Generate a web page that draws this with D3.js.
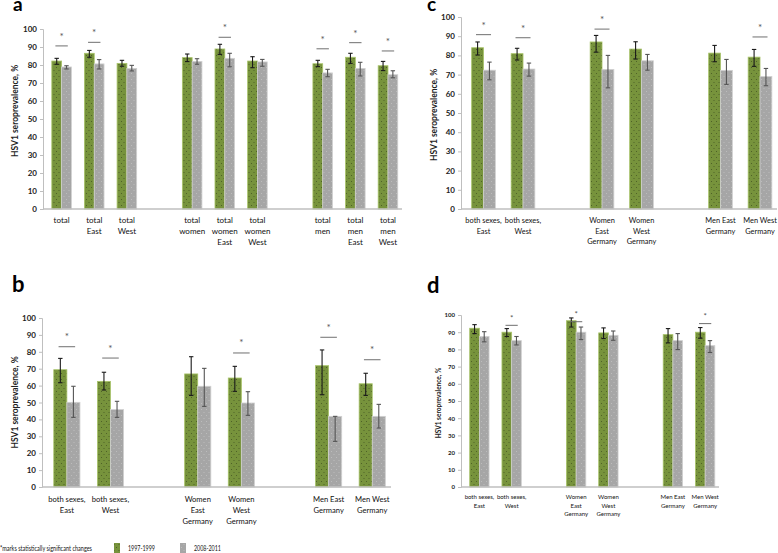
<!DOCTYPE html>
<html>
<head>
<meta charset="utf-8">
<script src="https://cdn.jsdelivr.net/npm/d3@7"></script>
<style>
  body { margin: 0; background: #fff; }
  text { font-family: Lato, "Liberation Sans", sans-serif; }
</style>
</head>
<body>
<div id="chart"></div>
<script>
const W = 778, H = 553;

// series + legend
const seriesNames = ["1997-1999", "2008-2011"];
const footNote = "*marks statistically significant changes";
const yTicks = [0, 10, 20, 30, 40, 50, 60, 70, 80, 90, 100];

// panel a (null = empty slot between groups)
const catsA = ["total", "total\nEast", "total\nWest", null, "total\nwomen", "total\nwomen\nEast", "total\nwomen\nWest", null, "total\nmen", "total\nmen\nEast", "total\nmen\nWest"];
const oldA   = [82.2, 86.5, 80.9, null, 84.1, 88.9, 82.2, null, 80.7, 84.3, 79.6];
const oldLoA = [80.4, 84.3, 79.3, null, 81.9, 85.9, 78.5, null, 79.1, 80.9, 76.9];
const oldHiA = [83.7, 88.1, 82.6, null, 86.1, 91.5, 84.6, null, 82.6, 86.5, 82.0];
const newA   = [78.9, 80.6, 78.1, null, 82.0, 83.7, 81.7, null, 75.6, 78.1, 74.6];
const newLoA = [77.8, 77.8, 76.7, null, 80.4, 79.0, 79.3, null, 73.5, 73.9, 72.9];
const newHiA = [79.6, 83.0, 79.8, null, 83.5, 86.5, 83.1, null, 77.6, 81.5, 76.8];
const sigA   = [90.6, 92.6, null, null, null, 95.4, null, null, 89.0, 92.4, 87.8];

// panels b, c, d share categories
const catsBCD = ["both sexes,\nEast", "both sexes,\nWest", null, "Women\nEast\nGermany", "Women\nWest\nGermany", null, "Men East\nGermany", "Men West\nGermany"];

const oldB   = [69.4, 62.5, null, 66.9, 64.5, null, 71.8, 61.1];
const oldLoB = [61.7, 57.4, null, 54.2, 56.6, null, 54.6, 54.2];
const oldHiB = [76.1, 67.9, null, 77.1, 71.4, null, 81.1, 67.3];
const newB   = [50.1, 45.8, null, 59.6, 49.7, null, 41.8, 41.8];
const newLoB = [41.2, 41.2, null, 47.7, 42.4, null, 27.0, 34.9];
const newHiB = [59.6, 50.7, null, 70.2, 56.4, null, 41.8, 48.9];
const sigB   = [83.0, 76.3, null, null, 79.3, null, 88.6, 75.3];

const oldC   = [84.0, 80.9, null, 87.0, 83.3, null, 81.2, 79.1];
const oldLoC = [80.2, 77.6, null, 81.7, 78.1, null, 76.7, 74.3];
const oldHiC = [87.0, 83.7, null, 90.4, 87.1, null, 85.2, 83.1];
const newC   = [72.3, 72.9, null, 72.7, 77.2, null, 72.2, 69.0];
const newLoC = [67.3, 69.2, null, 63.1, 72.3, null, 64.9, 64.2];
const newHiC = [76.5, 76.0, null, 80.0, 80.5, null, 77.9, 73.2];
const sigC   = [90.8, 89.2, null, 93.7, null, null, null, 89.6];

const oldD   = [92.3, 90.0, null, 96.7, 89.6, null, 88.6, 90.0];
const oldLoD = [89.2, 87.5, null, 93.0, 86.3, null, 83.8, 86.5];
const oldHiD = [94.4, 92.1, null, 98.3, 92.5, null, 92.1, 92.7];
const newD   = [87.5, 85.1, null, 90.0, 88.2, null, 85.1, 82.2];
const newLoD = [84.4, 82.6, null, 85.7, 85.3, null, 79.9, 78.2];
const newHiD = [90.3, 87.5, null, 93.0, 90.7, null, 89.2, 85.1];
const sigD   = [null, 94.0, null, 96.1, null, null, null, 95.0];

const svg = d3.select("#chart").append("svg")
  .attr("width", W).attr("height", H);

// dotted fills like the excel texture
const defs = svg.append("defs");
function dotPattern(id, bg, dot) {
  const p = defs.append("pattern").attr("id", id)
    .attr("patternUnits", "userSpaceOnUse").attr("width", 5).attr("height", 6);
  p.append("rect").attr("width", 5).attr("height", 6).attr("fill", bg);
  p.append("rect").attr("x", 1).attr("y", 1).attr("width", 1).attr("height", 1).attr("fill", dot);
  p.append("rect").attr("x", 3.5).attr("y", 4).attr("width", 1).attr("height", 1).attr("fill", dot);
}
dotPattern("dotGreen", "#77933c", "#4f6228");
dotPattern("dotGray", "#a6a6a6", "#bcbcbc");

function drawPanel(p) {
  const g = svg.append("g");
  const n = p.cats.length;
  const x = d3.scaleBand().domain(d3.range(n)).range([p.x0, p.x1]);
  const y = d3.scaleLinear().domain([0, 100]).range([p.y1, p.y0]);
  const step = x.step();
  const bw = step * 0.3;

  // panel letter
  g.append("text").attr("x", p.lx).attr("y", p.ly)
    .attr("font-size", p.letterFs).attr("font-weight", "bold")
    .attr("font-family", "Liberation Sans, Arial, sans-serif")
    .text(p.letter);

  // y axis
  const ya = g.append("g").attr("transform", `translate(${p.x0},0)`)
    .call(d3.axisLeft(y).tickValues(yTicks).tickSize(3).tickPadding(p.tickPad));
  ya.select(".domain").attr("stroke", "#bfbfbf");
  ya.selectAll(".tick line").attr("stroke", "#bfbfbf");
  ya.selectAll(".tick text").attr("font-size", p.tickFs).attr("font-weight", "bold")
    .attr("fill", "#222").style("font-family", "Lato, sans-serif");

  g.append("text")
    .attr("transform", `translate(${p.titleX},${(p.y0 + p.y1) / 2 - p.titleShift}) rotate(-90)`)
    .attr("text-anchor", "middle").attr("font-size", p.titleFs).attr("font-weight", "bold")
    .attr("fill", "#222")
    .text("HSV1 seroprevalence, %");

  const idx = d3.range(n).filter(i => p.cats[i] !== null);

  const series = [
    { v: p.oldV, lo: p.oldLo, hi: p.oldHi, fill: "url(#dotGreen)", stroke: "#a9c46a", err: "#1a1a1a", off: 0 },
    { v: p.newV, lo: p.newLo, hi: p.newHi, fill: "url(#dotGray)", stroke: "#d0d0d0", err: "#555", off: 1 }
  ];

  series.forEach(s => {
    g.selectAll(null).data(idx).enter().append("rect")
      .attr("x", i => x(i) + step * 0.27 + s.off * bw)
      .attr("y", i => y(s.v[i]))
      .attr("width", bw)
      .attr("height", i => y(0) - y(s.v[i]))
      .attr("fill", s.fill)
      .attr("stroke", s.stroke).attr("stroke-width", 0.8);
  });

  // x axis baseline
  g.append("line").attr("x1", p.x0).attr("x2", p.x1)
    .attr("y1", y(0)).attr("y2", y(0))
    .attr("stroke", "#bfbfbf").attr("stroke-width", 1.5);

  // error bars
  series.forEach(s => {
    const eb = g.selectAll(null).data(idx).enter().append("g")
      .attr("stroke", s.err).attr("stroke-width", 1.1);
    const cx = i => x(i) + step * 0.27 + s.off * bw + bw / 2;
    eb.append("line").attr("x1", cx).attr("x2", cx)
      .attr("y1", i => y(s.lo[i])).attr("y2", i => y(s.hi[i]));
    eb.append("line").attr("x1", i => cx(i) - 2.2).attr("x2", i => cx(i) + 2.2)
      .attr("y1", i => y(s.hi[i])).attr("y2", i => y(s.hi[i]));
    eb.append("line").attr("x1", i => cx(i) - 2.2).attr("x2", i => cx(i) + 2.2)
      .attr("y1", i => y(s.lo[i])).attr("y2", i => y(s.lo[i]));
  });

  // significance marks
  const sigIdx = idx.filter(i => p.sig[i] !== null);
  const pc = i => x(i) + step * 0.27 + bw;
  g.selectAll(null).data(sigIdx).enter().append("line")
    .attr("x1", i => pc(i) - step * 0.19).attr("x2", i => pc(i) + step * 0.19)
    .attr("y1", i => y(p.sig[i])).attr("y2", i => y(p.sig[i]))
    .attr("stroke", "#6f6f6f").attr("stroke-width", 1);
  g.selectAll(null).data(sigIdx).enter().append("text")
    .attr("x", pc).attr("y", i => y(p.sig[i]) - p.starGap)
    .attr("text-anchor", "middle").attr("font-size", p.starFs).attr("fill", "#555")
    .text("*");

  // category labels
  const lab = g.selectAll(null).data(idx).enter().append("text")
    .attr("text-anchor", "middle").attr("font-size", p.catFs).attr("fill", "#111")
    .attr("transform", i => `translate(${pc(i)},${y(0) + p.catY})`);
  lab.selectAll("tspan").data(i => p.cats[i].split("\n")).enter().append("tspan")
    .attr("x", 0).attr("dy", (d, k) => k === 0 ? 0 : p.catLh)
    .text(d => d);
}

drawPanel({ letter: "a", lx: 13, ly: 11, letterFs: 19, x0: 43, x1: 402, y0: 29, y1: 209,
  cats: catsA, oldV: oldA, oldLo: oldLoA, oldHi: oldHiA, newV: newA, newLo: newLoA, newHi: newHiA, sig: sigA,
  tickFs: 8, tickPad: 3, titleX: 18, titleShift: 8, titleFs: 8.5, catFs: 8, catY: 14, catLh: 11, starFs: 10, starGap: 6 });

drawPanel({ letter: "b", lx: 12, ly: 292, letterFs: 22, x0: 42, x1: 391, y0: 318, y1: 487,
  cats: catsBCD, oldV: oldB, oldLo: oldLoB, oldHi: oldHiB, newV: newB, newLo: newLoB, newHi: newHiB, sig: sigB,
  tickFs: 8, tickPad: 3, titleX: 18, titleShift: 0, titleFs: 8.5, catFs: 7.6, catY: 15, catLh: 11, starFs: 10, starGap: 6.5 });

drawPanel({ letter: "c", lx: 427, ly: 11, letterFs: 19, x0: 461, x1: 777, y0: 17, y1: 209,
  cats: catsBCD, oldV: oldC, oldLo: oldLoC, oldHi: oldHiC, newV: newC, newLo: newLoC, newHi: newHiC, sig: sigC,
  tickFs: 8, tickPad: 3, titleX: 437, titleShift: -2, titleFs: 8.5, catFs: 7.4, catY: 14, catLh: 10.5, starFs: 10, starGap: 6 });

drawPanel({ letter: "d", lx: 427, ly: 293, letterFs: 22, x0: 461, x1: 719, y0: 315, y1: 487,
  cats: catsBCD, oldV: oldD, oldLo: oldLoD, oldHi: oldHiD, newV: newD, newLo: newLoD, newHi: newHiD, sig: sigD,
  tickFs: 6, tickPad: 3, titleX: 441, titleShift: -2, titleFs: 6.5, catFs: 6, catY: 12, catLh: 8.5, starFs: 8, starGap: 4.5 });

// legend
const leg = svg.append("g");
leg.append("text").attr("x", 0).attr("y", 551).attr("font-size", 7.5).attr("fill", "#111")
  .attr("textLength", 92).attr("lengthAdjust", "spacingAndGlyphs").text(footNote);
const legX = [114, 180];
const legFill = ["url(#dotGreen)", "url(#dotGray)"];
seriesNames.forEach((s, k) => {
  leg.append("rect").attr("x", legX[k]).attr("y", 543).attr("width", 6).attr("height", 10).attr("fill", legFill[k]);
  leg.append("text").attr("x", legX[k] + 14).attr("y", 551).attr("font-size", 7.5).attr("fill", "#111")
    .attr("textLength", 27).attr("lengthAdjust", "spacingAndGlyphs").text(s);
});
</script>
</body>
</html>
